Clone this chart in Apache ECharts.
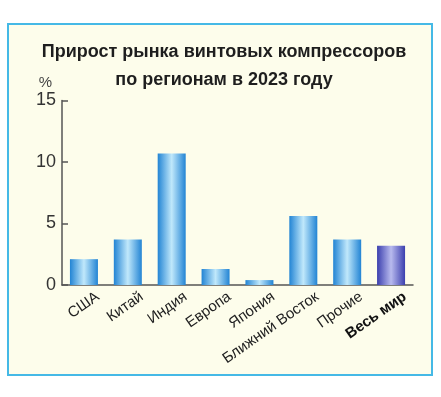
<!DOCTYPE html>
<html>
<head>
<meta charset="utf-8">
<script src="https://cdn.jsdelivr.net/npm/echarts@6/dist/echarts.min.js"></script>
<style>
  html, body { margin: 0; padding: 0; background: #ffffff; }
  #chart { width: 441px; height: 397px; }
</style>
</head>
<body>
<div id="chart"></div>
<script>
// данные с картинки
var regions = ['США', 'Китай', 'Индия', 'Европа', 'Япония', 'Ближний Восток', 'Прочие', 'Весь мир'];
var growth = [2.1, 3.7, 10.7, 1.3, 0.4, 5.6, 3.7, 3.2];
var yTicks = [0, 5, 10, 15];
var totalName = 'Весь мир';

function barGrad(edge, mid) {
    return new echarts.graphic.LinearGradient(0, 0, 1, 0, [
        {offset: 0, color: edge},
        {offset: 0.5, color: mid},
        {offset: 1, color: edge}
    ]);
}

var seriesData = [];
for (var i = 0; i < growth.length; i++) {
    var isTotal = regions[i] == totalName;
    seriesData.push({
        value: growth[i],
        itemStyle: {
            color: isTotal ? barGrad('#3b3fae', '#b8baee') : barGrad('#2284d4', '#c0e8fb')
        }
    });
}

var chart = echarts.init(document.getElementById('chart'));
chart.setOption({
    backgroundColor: '#ffffff',
    animation: false,
    graphic: [{
        type: 'rect',
        shape: {x: 8, y: 24, width: 424, height: 351},
        style: {fill: '#fdfdeb', stroke: '#45b9e6', lineWidth: 2},
        z: -10
    }],
    title: {
        text: 'Прирост рынка винтовых компрессоров\nпо регионам в 2023 году',
        left: 219,
        top: 33,
        textAlign: 'center',
        textStyle: {
            fontFamily: 'Liberation Sans',
            fontSize: 18,
            fontWeight: 'bold',
            color: '#1e1e1e',
            lineHeight: 28
        }
    },
    grid: {left: 62, right: 28, top: 100.5, bottom: 112},
    xAxis: {
        type: 'category',
        data: regions,
        axisLine: {lineStyle: {color: '#555', width: 1.5}},
        axisTick: {inside: true, length: 4, lineStyle: {color: '#555'}},
        axisLabel: {
            rotate: 35,
            margin: 20,
            padding: [0, -17, 0, 0],
            fontFamily: 'Liberation Sans',
            fontSize: 15,
            color: '#222',
            formatter: function (v) {
                return v == totalName ? '{b|' + v + '}' : v;
            },
            rich: {
                b: {fontWeight: 'bold', fontFamily: 'Liberation Sans', fontSize: 15, color: '#111'}
            }
        }
    },
    yAxis: {
        type: 'value',
        min: yTicks[0],
        max: yTicks[yTicks.length - 1],
        interval: 5,
        name: '%',
        nameGap: 10,
        nameTextStyle: {
            fontFamily: 'Liberation Sans',
            fontSize: 15,
            color: '#444',
            align: 'right',
            padding: [0, 10, 0, 0]
        },
        axisLine: {show: true, lineStyle: {color: '#555', width: 1.5}},
        axisTick: {show: true, inside: true, length: 6, lineStyle: {color: '#555', width: 1.5}},
        splitLine: {show: false},
        axisLabel: {
            margin: 6,
            fontFamily: 'Liberation Sans',
            fontSize: 18,
            color: '#333'
        }
    },
    series: [{
        type: 'bar',
        barWidth: 28,
        data: seriesData
    }]
});
</script>
</body>
</html>
